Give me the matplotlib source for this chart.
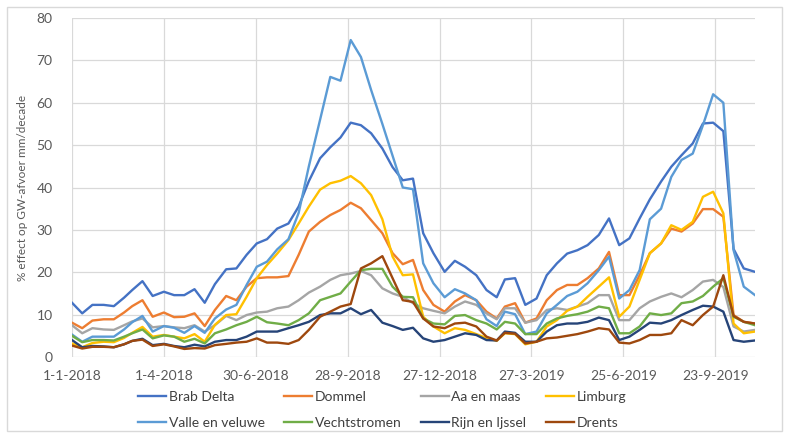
import matplotlib.pyplot as plt
from matplotlib.patches import Rectangle
from datetime import date, datetime

# decade dates (1st, 11th, 21st of each month), 1-1-2018 .. 1-11-2019
months = [(2018, m) for m in range(1, 13)] + [(2019, m) for m in range(1, 11)]
dates = [date(y, m, d) for (y, m) in months for d in (1, 11, 21)] + [date(2019, 11, 1)]

brab_delta = [12.8, 10.3, 12.3, 12.3, 12.0, 14.0, 15.8, 17.9, 14.4, 15.4, 14.6, 14.6, 16.0, 12.8,
              17.2, 20.7, 20.9, 24.1, 26.8, 27.8, 30.3, 31.5, 35.5, 41.5, 46.9, 49.5, 51.8, 55.3,
              54.7, 52.8, 49.2, 44.8, 41.7, 42.1, 29.2, 24.5, 20.1, 22.7, 21.3, 19.3, 15.8, 14.1,
              18.3, 18.6, 12.3, 13.8, 19.3, 22.1, 24.4, 25.2, 26.4, 28.8, 32.7, 26.4, 28.0, 32.7,
              37.2, 41.4, 44.9, 47.6, 50.4, 55.1, 55.3, 53.3, 25.5, 20.9, 20.1]
dommel = [8.1, 6.8, 8.6, 8.9, 8.9, 10.5, 12.0, 13.4, 9.5, 10.5, 9.4, 9.5, 10.3, 7.3,
          11.1, 14.4, 13.4, 16.6, 18.6, 18.8, 18.8, 19.1, 24.1, 29.6, 31.9, 33.5, 34.7, 36.4,
          35.1, 32.3, 29.2, 24.5, 21.9, 22.9, 15.8, 12.3, 10.7, 13.1, 14.6, 13.4, 10.7, 9.1,
          11.9, 12.7, 8.1, 9.1, 13.4, 15.8, 17.0, 17.0, 18.6, 20.9, 24.8, 14.6, 14.6, 19.3,
          24.5, 26.8, 30.3, 29.6, 31.5, 34.9, 34.9, 33.1, 9.9, 8.3, 7.9]
aa_en_maas = [7.5, 5.6, 6.8, 6.5, 6.4, 7.5, 8.4, 9.1, 7.0, 7.3, 7.0, 6.8, 7.5, 6.0,
              7.5, 9.7, 8.7, 9.9, 10.5, 10.7, 11.5, 11.9, 13.4, 15.2, 16.6, 18.2, 19.3, 19.7,
              20.3, 19.3, 16.2, 15.0, 14.2, 12.7, 11.5, 10.9, 10.3, 11.9, 13.1, 12.3, 10.3, 8.9,
              11.5, 11.5, 8.1, 8.7, 11.1, 11.5, 11.1, 11.9, 12.7, 14.6, 14.6, 8.7, 8.7, 11.5,
              13.1, 14.2, 15.0, 14.1, 15.8, 17.8, 18.2, 16.5, 7.2, 6.0, 6.4]
limburg = [3.2, 2.3, 3.3, 3.6, 3.5, 4.5, 5.7, 7.1, 4.8, 5.2, 4.8, 4.4, 5.4, 3.6,
           7.6, 9.9, 10.1, 14.2, 18.6, 21.7, 24.4, 27.6, 31.5, 35.5, 39.5, 41.0, 41.6, 42.7,
           41.0, 38.2, 32.5, 23.7, 19.3, 19.5, 9.5, 7.2, 5.6, 6.8, 6.4, 5.4, 4.5, 3.8,
           5.6, 5.4, 3.0, 3.6, 7.2, 8.7, 10.9, 11.9, 14.2, 16.6, 18.8, 9.5, 11.9, 18.2,
           24.5, 26.8, 31.1, 30.0, 31.9, 37.8, 39.0, 33.9, 7.9, 5.6, 6.0]
valle_en_veluwe = [5.3, 3.6, 4.8, 4.8, 4.8, 6.5, 8.2, 9.7, 6.0, 7.3, 6.9, 5.7, 7.3, 5.7,
                   9.1, 11.2, 12.3, 17.0, 21.3, 22.5, 25.4, 27.8, 34.0, 45.0, 56.0, 66.1, 65.2, 74.8,
                   70.8, 63.0, 55.0, 47.5, 40.0, 39.6, 22.1, 17.4, 14.1, 16.0, 15.0, 13.4, 8.9, 7.3,
                   10.7, 10.1, 5.4, 6.0, 10.3, 12.3, 14.4, 15.4, 17.4, 20.5, 23.7, 13.8, 15.8, 20.5,
                   32.5, 35.0, 42.5, 46.5, 48.0, 54.7, 62.0, 60.0, 25.2, 16.6, 14.6]
vechtstromen = [5.0, 3.5, 4.0, 4.0, 3.9, 4.8, 5.6, 6.5, 4.4, 5.1, 4.8, 3.6, 4.3, 3.2,
                5.6, 6.5, 7.5, 8.3, 9.5, 8.2, 7.9, 7.5, 8.7, 10.3, 13.4, 14.2, 15.0, 17.8,
                20.5, 20.8, 20.8, 16.6, 14.2, 14.1, 9.1, 7.9, 7.7, 9.7, 9.9, 8.7, 7.9, 6.5,
                8.3, 7.9, 5.4, 5.4, 7.9, 9.1, 9.7, 10.1, 10.7, 11.9, 11.5, 5.6, 5.6, 7.2,
                10.3, 9.9, 10.3, 12.7, 13.1, 14.4, 16.6, 18.6, 9.5, 8.3, 7.5]
rijn_en_ijssel = [4.0, 2.3, 2.6, 2.5, 2.3, 3.0, 3.8, 4.3, 2.8, 3.1, 2.6, 2.3, 2.9, 2.5,
                  3.6, 4.0, 4.0, 4.8, 6.0, 6.0, 6.0, 6.8, 7.5, 8.3, 9.9, 10.3, 10.3, 11.5,
                  10.1, 11.1, 8.1, 7.3, 6.4, 6.9, 4.4, 3.6, 4.0, 4.8, 5.6, 5.2, 4.0, 3.9,
                  6.0, 5.7, 3.6, 3.6, 6.0, 7.5, 7.9, 7.9, 8.3, 9.3, 8.7, 4.0, 4.8, 6.4,
                  8.1, 7.9, 8.7, 9.9, 11.1, 12.1, 11.9, 10.7, 4.0, 3.6, 3.9]
drents = [2.7, 2.0, 2.4, 2.4, 2.3, 3.0, 3.8, 4.1, 2.6, 3.0, 2.5, 1.9, 2.1, 2.0,
          2.8, 3.1, 3.4, 3.6, 4.4, 3.4, 3.4, 3.1, 4.0, 6.4, 9.5, 10.7, 11.9, 12.5,
          20.9, 22.1, 23.8, 18.6, 13.4, 13.0, 9.1, 7.2, 6.8, 7.9, 8.1, 7.2, 4.8, 3.9,
          5.7, 5.5, 3.2, 3.6, 4.4, 4.6, 5.0, 5.4, 6.0, 6.8, 6.5, 3.4, 3.2, 4.0,
          5.2, 5.2, 5.6, 8.7, 7.5, 9.9, 11.9, 19.3, 9.7, 8.3, 7.9]

names = ["Brab Delta", "Dommel", "Aa en maas", "Limburg",
         "Valle en veluwe", "Vechtstromen", "Rijn en Ijssel", "Drents"]
series = [brab_delta, dommel, aa_en_maas, limburg,
          valle_en_veluwe, vechtstromen, rijn_en_ijssel, drents]
colors = ["#4472C4", "#ED7D31", "#A5A5A5", "#FFC000",
          "#5B9BD5", "#70AD47", "#264478", "#9E480E"]

tick_labels = ["1-1-2018", "1-4-2018", "30-6-2018", "28-9-2018",
               "27-12-2018", "27-3-2019", "25-6-2019", "23-9-2019"]
tick_dates = [datetime.strptime(t, "%d-%m-%Y").date() for t in tick_labels]

plt.rcParams['font.family'] = ['Lato', 'DejaVu Sans']

fig = plt.figure(figsize=(7.89, 4.36), dpi=100)
ax = fig.add_axes([72/789, 1-357/436, (755-72)/789, (357-18)/436])

lines = {}
for name, vals, c in zip(names, series, colors):
    lines[name], = ax.plot(dates, vals, color=c, lw=1.7, solid_joinstyle='round')

ax.set_xlim(dates[0], dates[-1])
ax.set_ylim(0, 80)
ax.set_yticks(range(0, 81, 10))
ax.set_xticks(tick_dates)
ax.set_xticklabels(tick_labels)
ax.grid(True, color='#D9D9D9', lw=0.9)
ax.set_axisbelow(True)
for s in ax.spines.values():
    s.set_visible(False)
ax.tick_params(length=0, labelsize=10, colors='#595959', pad=9)
ax.tick_params(axis='y', pad=14)
ax.set_ylabel("% effect op GW-afvoer mm/decade", fontsize=8.5, color='#595959', labelpad=6)

# legend row-major order (matplotlib fills columns first)
order = [0, 4, 1, 5, 2, 6, 3, 7]
ax.legend([lines[names[i]] for i in order], [names[i] for i in order],
          ncol=4, loc='upper center', bbox_to_anchor=(382/789, 1-378/436),
          bbox_transform=fig.transFigure, frameon=False, fontsize=10,
          handlelength=2.0, handletextpad=0.2, columnspacing=1.4,
          labelspacing=1.05, labelcolor='#404040')

fig.patches.append(Rectangle((7/789, 5/436), 775/789, 424/436, transform=fig.transFigure,
                             fill=False, edgecolor='#D9D9D9', lw=1))

fig.savefig("out.png", dpi=100)
